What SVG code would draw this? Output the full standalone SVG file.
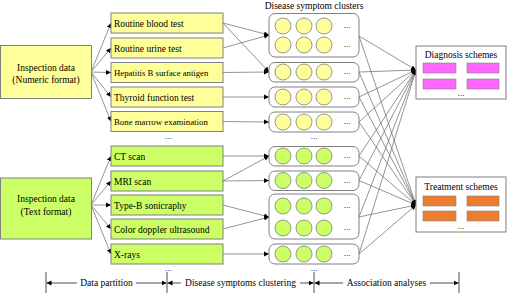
<svg xmlns="http://www.w3.org/2000/svg" width="507" height="293" viewBox="0 0 507 293">
<defs>
<marker id="ah" markerWidth="6" markerHeight="6" refX="5" refY="3" orient="auto" markerUnits="userSpaceOnUse">
<path d="M0,0.6 L5,3 L0,5.4 Z" fill="#000"/>
</marker>
<style>
text{font-family:"Liberation Serif","Times New Roman",serif;font-size:9.5px;fill:#000}
.y{fill:#FFFF99;stroke:#808080;stroke-width:1}
.g{fill:#CCFF66;stroke:#808080;stroke-width:1}
.cb{fill:#fff;stroke:#808080;stroke-width:1}
.cy{fill:#FFFF99;stroke:#808080;stroke-width:0.8}
.cg{fill:#CCFF66;stroke:#808080;stroke-width:0.8}
.sb{fill:#fff;stroke:#808080;stroke-width:1}
.pk{fill:#FF66FF;stroke:#808080;stroke-width:0.6}
.or{fill:#ED7D31;stroke:#808080;stroke-width:0.6}
.c line{stroke:#666;stroke-width:0.7;marker-end:url(#ah)}
.ax line{stroke:#000;stroke-width:0.7}
.ax .a{marker-end:url(#ah)}
.tk{stroke:#808080;stroke-width:0.8}
.m{text-anchor:middle}
.d{font-size:9px}
</style>
</defs>
<rect width="507" height="293" fill="#fff"/>

<g id="connectors" class="c">
<line x1="91" y1="72" x2="111" y2="23"/>
<line x1="91" y1="72" x2="111" y2="48"/>
<line x1="91" y1="72" x2="111" y2="72.5"/>
<line x1="91" y1="72" x2="111" y2="97"/>
<line x1="91" y1="72" x2="111" y2="121.5"/>
<line x1="91" y1="205" x2="111" y2="156"/>
<line x1="91" y1="205" x2="111" y2="181"/>
<line x1="91" y1="205" x2="111" y2="205"/>
<line x1="91" y1="205" x2="111" y2="229"/>
<line x1="91" y1="205" x2="111" y2="254"/>
<line x1="223" y1="23" x2="269" y2="35"/>
<line x1="223" y1="48" x2="269" y2="35"/>
<line x1="223" y1="23" x2="269" y2="72"/>
<line x1="223" y1="72.5" x2="269" y2="72"/>
<line x1="223" y1="97" x2="269" y2="97"/>
<line x1="223" y1="121.5" x2="269" y2="122"/>
<line x1="223" y1="156" x2="269" y2="156"/>
<line x1="223" y1="181" x2="269" y2="156"/>
<line x1="223" y1="181" x2="269" y2="180.5"/>
<line x1="223" y1="205" x2="269" y2="217"/>
<line x1="223" y1="229" x2="269" y2="217"/>
<line x1="223" y1="254" x2="269" y2="254"/>
<line x1="359" y1="36" x2="416" y2="70"/>
<line x1="359" y1="72" x2="416" y2="70"/>
<line x1="359" y1="97" x2="416" y2="70"/>
<line x1="359" y1="122" x2="416" y2="70"/>
<line x1="359" y1="156" x2="416" y2="70"/>
<line x1="359" y1="180.5" x2="416" y2="70"/>
<line x1="359" y1="217" x2="416" y2="70"/>
<line x1="359" y1="254" x2="416" y2="70"/>
<line x1="359" y1="36" x2="416" y2="205"/>
<line x1="359" y1="72" x2="416" y2="205"/>
<line x1="359" y1="97" x2="416" y2="205"/>
<line x1="359" y1="122" x2="416" y2="205"/>
<line x1="359" y1="156" x2="416" y2="205"/>
<line x1="359" y1="180.5" x2="416" y2="205"/>
<line x1="359" y1="217" x2="416" y2="205"/>
<line x1="359" y1="254" x2="416" y2="205"/>
</g>

<g id="inspection-numeric">
<rect class="y" x="0.5" y="45.5" width="91" height="53"/>
<text class="m" x="46" y="70.5">Inspection data</text>
<text class="m" x="46" y="83">(Numeric format)</text>
</g>
<g id="inspection-text">
<rect class="g" x="0.5" y="178" width="91" height="61"/>
<text class="m" x="46" y="202">Inspection data</text>
<text class="m" x="46" y="214.5">(Text format)</text>
</g>

<g id="routine-blood-test"><rect class="y" x="111" y="13" width="112" height="20"/><text x="114" y="26.5">Routine blood test</text></g>
<g id="routine-urine-test"><rect class="y" x="111" y="38" width="112" height="20"/><text x="114" y="51.5">Routine urine test</text></g>
<g id="hepatitis-b"><rect class="y" x="111" y="62.5" width="112" height="20"/><text x="114" y="75.5" style="font-size:8.7px">Hepatitis B surface antigen</text></g>
<g id="thyroid"><rect class="y" x="111" y="87" width="112" height="20"/><text x="114" y="100.5">Thyroid function test</text></g>
<g id="bone-marrow"><rect class="y" x="111" y="111.5" width="112" height="20"/><text x="114" y="124.5" style="font-size:8.8px">Bone marrow examination</text></g>
<text class="m d" x="168" y="139">...</text>

<g id="ct-scan"><rect class="g" x="111" y="146" width="112" height="20"/><text x="114" y="159.5">CT scan</text></g>
<g id="mri-scan"><rect class="g" x="111" y="171" width="112" height="20"/><text x="114" y="184.5">MRI scan</text></g>
<g id="type-b"><rect class="g" x="111" y="195" width="112" height="20"/><text x="114" y="208.5">Type-B sonicraphy</text></g>
<g id="color-doppler"><rect class="g" x="111" y="219" width="112" height="20"/><text x="114" y="232.5">Color doppler ultrasound</text></g>
<g id="x-rays"><rect class="g" x="111" y="244" width="112" height="20"/><text x="114" y="257.5">X-rays</text></g>
<text class="m d" x="168" y="271">...</text>

<text class="m" x="314" y="8.5">Disease symptom clusters</text>

<g id="cluster-1">
<rect class="cb" x="269" y="13.5" width="90" height="43.5" rx="6"/>
<circle class="cy" cx="283" cy="26" r="8"/><circle class="cy" cx="304" cy="26" r="8"/><circle class="cy" cx="324" cy="26" r="8"/><text class="m d" x="347" y="28">...</text>
<circle class="cy" cx="283" cy="45" r="8"/><circle class="cy" cx="304" cy="45" r="8"/><circle class="cy" cx="324" cy="45" r="8"/><text class="m d" x="347" y="47">...</text>
</g>
<g id="cluster-2">
<rect class="cb" x="269" y="62.5" width="90" height="19.5" rx="6"/>
<circle class="cy" cx="283" cy="72" r="8"/><circle class="cy" cx="304" cy="72" r="8"/><circle class="cy" cx="324" cy="72" r="8"/><text class="m d" x="347" y="74">...</text>
</g>
<g id="cluster-3">
<rect class="cb" x="269" y="87" width="90" height="20" rx="6"/>
<circle class="cy" cx="283" cy="97" r="8"/><circle class="cy" cx="304" cy="97" r="8"/><circle class="cy" cx="324" cy="97" r="8"/><text class="m d" x="347" y="99">...</text>
</g>
<g id="cluster-4">
<rect class="cb" x="269" y="112" width="90" height="20" rx="6"/>
<circle class="cy" cx="283" cy="122" r="8"/><circle class="cy" cx="304" cy="122" r="8"/><circle class="cy" cx="324" cy="122" r="8"/><text class="m d" x="347" y="124">...</text>
</g>
<text class="m d" x="314" y="139">...</text>
<g id="cluster-5">
<rect class="cb" x="269" y="146.5" width="90" height="19.5" rx="6"/>
<circle class="cg" cx="283" cy="156" r="8"/><circle class="cg" cx="304" cy="156" r="8"/><circle class="cg" cx="324" cy="156" r="8"/><text class="m d" x="347" y="158">...</text>
</g>
<g id="cluster-6">
<rect class="cb" x="269" y="171" width="90" height="19.5" rx="6"/>
<circle class="cg" cx="283" cy="180.5" r="8"/><circle class="cg" cx="304" cy="180.5" r="8"/><circle class="cg" cx="324" cy="180.5" r="8"/><text class="m d" x="347" y="182.5">...</text>
</g>
<g id="cluster-7">
<rect class="cb" x="269" y="194" width="90" height="45" rx="6"/>
<circle class="cg" cx="283" cy="206" r="8"/><circle class="cg" cx="304" cy="206" r="8"/><circle class="cg" cx="324" cy="206" r="8"/><text class="m d" x="347" y="208">...</text>
<circle class="cg" cx="283" cy="228" r="8"/><circle class="cg" cx="304" cy="228" r="8"/><circle class="cg" cx="324" cy="228" r="8"/><text class="m d" x="347" y="230">...</text>
</g>
<g id="cluster-8">
<rect class="cb" x="269" y="244" width="90" height="20" rx="6"/>
<circle class="cg" cx="283" cy="254" r="8"/><circle class="cg" cx="304" cy="254" r="8"/><circle class="cg" cx="324" cy="254" r="8"/><text class="m d" x="347" y="256">...</text>
</g>
<text class="m d" x="314" y="271">...</text>

<g id="diagnosis-schemes">
<rect class="sb" x="416" y="46" width="90" height="53"/>
<text class="m" x="461" y="57.5">Diagnosis schemes</text>
<rect class="pk" x="423" y="63" width="33" height="10"/><rect class="pk" x="467" y="63" width="32" height="10"/>
<rect class="pk" x="423" y="79" width="33" height="10"/><rect class="pk" x="467" y="79" width="32" height="10"/>
<text class="m d" x="461" y="96">...</text>
</g>
<g id="treatment-schemes">
<rect class="sb" x="416" y="177" width="90" height="55"/>
<text class="m" x="461" y="189.5">Treatment schemes</text>
<rect class="or" x="423" y="196" width="33" height="10"/><rect class="or" x="467" y="196" width="32" height="10"/>
<rect class="or" x="423" y="211" width="33" height="10"/><rect class="or" x="467" y="211" width="32" height="10"/>
<text class="m d" x="461" y="229">...</text>
</g>

<g id="axis" class="ax">
<line class="tk" x1="46" y1="272" x2="46" y2="293"/>
<line class="tk" x1="167" y1="272" x2="167" y2="293"/>
<line class="tk" x1="314" y1="272" x2="314" y2="293"/>
<line class="tk" x1="459" y1="272" x2="459" y2="293"/>
<line class="a" x1="77" y1="283" x2="46.5" y2="283"/>
<line class="a" x1="136" y1="283" x2="166.5" y2="283"/>
<line class="a" x1="181" y1="283" x2="167.5" y2="283"/>
<line class="a" x1="300" y1="283" x2="313.5" y2="283"/>
<line class="a" x1="343" y1="283" x2="314.5" y2="283"/>
<line class="a" x1="430" y1="283" x2="458.5" y2="283"/>
<text class="m" x="106.5" y="286">Data partition</text>
<text class="m" x="240.5" y="286">Disease symptoms clustering</text>
<text class="m" x="386.5" y="286">Association analyses</text>
</g>
</svg>
